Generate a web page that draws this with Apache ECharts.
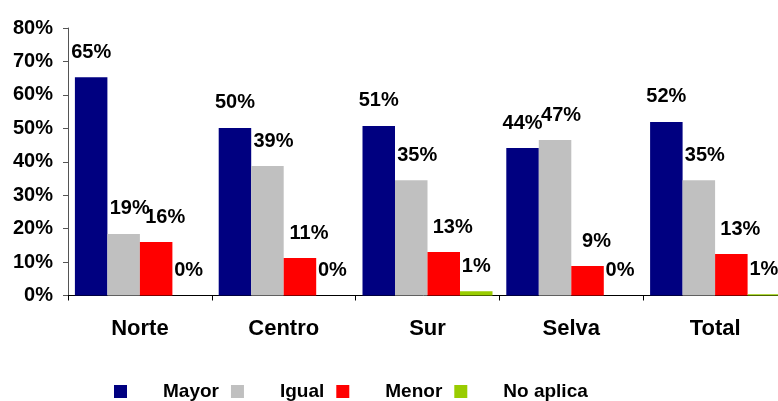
<!DOCTYPE html>
<html>
<head>
<meta charset="utf-8">
<script src="https://cdn.jsdelivr.net/npm/echarts@6/dist/echarts.min.js"></script>
<style>
html,body{margin:0;padding:0;background:#fff;}
#chart{width:778px;height:401px;}
</style>
</head>
<body>
<div id="chart"></div>
<script>
const categories = ['Norte', 'Centro', 'Sur', 'Selva', 'Total'];
const seriesNames = ['Mayor', 'Igual', 'Menor', 'No aplica'];
// bar heights (percent)
const mayor = [65.3, 50.1, 50.7, 44.1, 51.9];
const igual = [18.4, 38.7, 34.5, 46.5, 34.5];
const menor = [16.0, 11.2, 13.0, 8.8, 12.4];
const noAplica = [0, 0, 1.3, 0, 0.4];
// printed data labels (percent)
const mayorLabels = [65, 50, 51, 44, 52];
const igualLabels = [19, 39, 35, 47, 35];
const menorLabels = [16, 11, 13, 9, 13];
const noAplicaLabels = [0, 0, 1, 0, 1];
const yTicks = [0, 10, 20, 30, 40, 50, 60, 70, 80];

const colors = ['#000080', '#C0C0C0', '#FF0000', '#99CC00'];
const FONT = '"Liberation Sans", Arial, sans-serif';

function mkSeries(name, data, labels, color, offsetX) {
  return {
    name: name,
    type: 'bar',
    data: data,
    barWidth: 32.5,
    barGap: '0%',
    itemStyle: { color: color },
    label: {
      show: true,
      position: 'top',
      distance: 15,
      offset: [offsetX, 0],
      color: '#000',
      fontFamily: FONT,
      fontWeight: 'bold',
      fontSize: 20,
      formatter: p => labels[p.dataIndex] + '%'
    }
  };
}

const chart = echarts.init(document.getElementById('chart'), null, { renderer: 'canvas' });
chart.setOption({
  animation: false,
  backgroundColor: '#fff',
  color: colors,
  grid: { left: 68, width: 719, top: 28, bottom: 105.5, containLabel: false, outerBoundsMode: 'none' },
  legend: {
    data: seriesNames,
    left: 114,
    top: 382,
    padding: 0,
    icon: 'rect',
    itemWidth: 13,
    itemHeight: 13,
    itemGap: 12,
    textStyle: {
      fontFamily: FONT,
      fontWeight: 'bold',
      fontSize: 19,
      color: '#000',
      padding: [0, 0, 0, 31]
    }
  },
  xAxis: {
    type: 'category',
    data: categories,
    axisLine: { lineStyle: { color: '#000', width: 1 } },
    axisTick: { show: true, length: 5, alignWithLabel: false, lineStyle: { color: '#000' } },
    axisLabel: {
      margin: 22,
      color: '#000',
      fontFamily: FONT,
      fontWeight: 'bold',
      fontSize: 22
    },
    splitLine: { show: false }
  },
  yAxis: {
    type: 'value',
    min: yTicks[0],
    max: yTicks[yTicks.length - 1],
    interval: 10,
    axisLine: { show: true, lineStyle: { color: '#555', width: 1 } },
    axisTick: { show: true, length: 5, lineStyle: { color: '#555' } },
    axisLabel: {
      margin: 15,
      color: '#000',
      fontFamily: FONT,
      fontWeight: 'bold',
      fontSize: 20,
      formatter: v => v + '%'
    },
    splitLine: { show: false }
  },
  series: [
    mkSeries(seriesNames[0], mayor, mayorLabels, colors[0], 0),
    mkSeries(seriesNames[1], igual, igualLabels, colors[1], 6),
    mkSeries(seriesNames[2], menor, menorLabels, colors[2], 9),
    mkSeries(seriesNames[3], noAplica, noAplicaLabels, colors[3], 0)
  ]
});
</script>
</body>
</html>
